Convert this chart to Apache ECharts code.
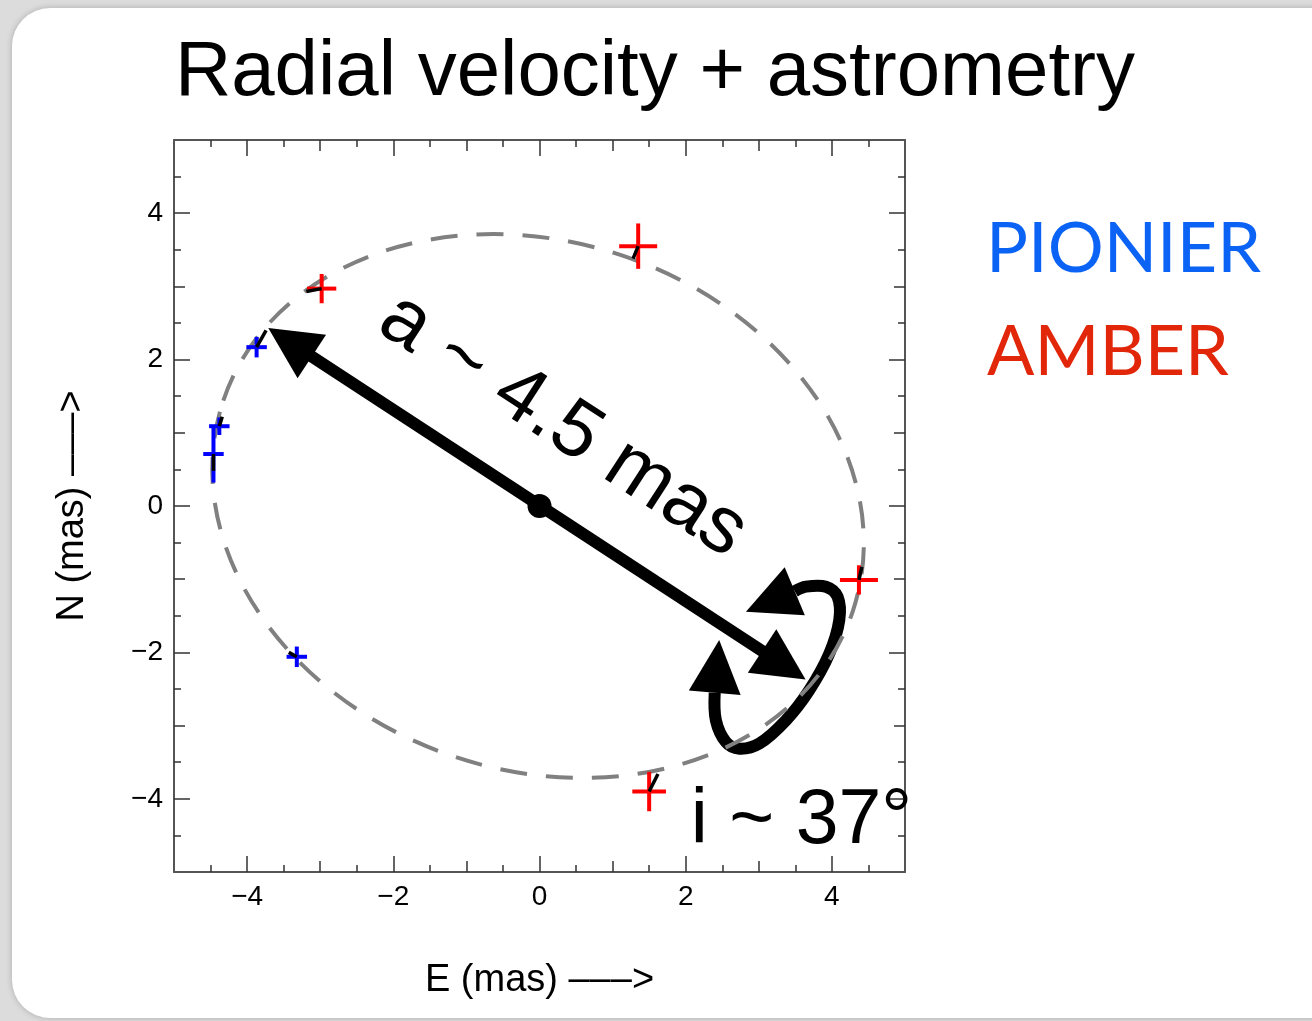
<!DOCTYPE html>
<html>
<head>
<meta charset="utf-8">
<title>Radial velocity + astrometry</title>
<script src="https://cdn.jsdelivr.net/npm/echarts@6/dist/echarts.min.js"></script>
<style>
  html, body { margin: 0; padding: 0; width: 1312px; height: 1021px; overflow: hidden; background: #dcdcdc; }
  #card { position: absolute; left: 12px; top: 8px; width: 1360px; height: 1010px; background: #ffffff;
          border-radius: 38px; box-shadow: 0 0 6px rgba(0,0,0,0.22); }
  #chart { position: absolute; left: 0; top: 0; width: 1312px; height: 1021px; }
</style>
</head>
<body>
<div id="card"></div>
<div id="chart"></div>
<script>
// ---- axis ticks (mas) ----
const axisRange = [-5, 5];
const majorTicks = [-4, -2, 0, 2, 4];
const midTicks = [-3, -1, 1, 3];
const minorTicks = [-4.5, -3.5, -2.5, -1.5, -0.5, 0.5, 1.5, 2.5, 3.5, 4.5];

// ---- AMBER relative astrometry: [E, N], errors [sE, sN], orbit-fit positions ----
const amberPos = [[-2.98, 2.97], [1.35, 3.55], [4.37, -1.01], [1.50, -3.90]];
const amberErr = [[0.20, 0.20], [0.26, 0.31], [0.26, 0.20], [0.23, 0.27]];
const amberFit = [[-3.19, 2.93], [1.28, 3.38], [4.41, -0.83], [1.62, -3.66]];

// ---- PIONIER relative astrometry ----
const pionierPos = [[-3.87, 2.17], [-4.38, 1.09], [-4.46, 0.71], [-3.32, -2.06]];
const pionierErr = [[0.14, 0.14], [0.14, 0.12], [0.14, 0.39], [0.14, 0.14]];
const pionierFit = [[-3.74, 2.40], [-4.34, 1.22], [-4.46, 0.48], [-3.43, -2.00]];

// ---- projected orbit (apparent ellipse) ----
const orbitCenter = [-0.02, 0.0];
const orbitSemiAxes = [4.54, 3.61];
const orbitTiltDeg = -18.5;

// ---- semi-major axis arrow and inclination loop ----
const primaryPos = [0, 0];
const semiMajorEnds = [[-3.71, 2.43], [3.64, -2.37]];
const tiltLoop = [[2.397, -2.551], [2.413, -2.928], [2.550, -3.224], [2.733, -3.315], [3.005, -3.247],
                  [3.371, -2.928], [3.690, -2.517], [3.965, -2.015], [4.101, -1.559], [4.078, -1.240],
                  [3.918, -1.102], [3.645, -1.102], [3.492, -1.165]];
const tiltLoopTips = [[2.458, -1.832], [2.824, -1.446]];

// ---- annotation texts ----
const semiMajorText = 'a ~ 4.5 mas';
const semiMajorTextAt = [0.32, 1.10];
const inclinationText = 'i ~ 37°';
const inclinationTextAt = [2.07, -4.31];

const HELV = "'Liberation Sans', Arial, Helvetica, sans-serif";
const GILL = "Lato, 'Open Sans', sans-serif";

const frameStyle = { color: '#555555', width: 2 };
const tickStyle = { color: '#333333', width: 1.5 };
const minus = v => String(v).replace('-', '\u2212');

function makeAxis(position, ticks, len, opts) {
  opts = opts || {};
  const ax = {
    type: 'value', position: position, min: axisRange[0], max: axisRange[1],
    axisLine: { show: !!opts.line, onZero: false, lineStyle: frameStyle },
    axisTick: { show: true, inside: true, length: len, customValues: ticks, lineStyle: tickStyle },
    axisLabel: { show: !!opts.labels },
    splitLine: { show: false },
    minorTick: { show: false }
  };
  if (opts.labels) {
    ax.axisLabel = {
      show: true, customValues: majorTicks, formatter: minus,
      fontFamily: HELV, fontSize: 28, color: '#000', margin: 11
    };
  }
  if (opts.name) {
    ax.name = opts.name;
    ax.nameLocation = 'middle';
    ax.nameGap = opts.nameGap;
    ax.nameTextStyle = { fontFamily: HELV, fontSize: 38, color: '#000' };
  }
  return ax;
}

const xAxes = [
  makeAxis('bottom', majorTicks, 16, { line: true, labels: true, name: 'E (mas) \u2013\u2013\u2013>', nameGap: 90 }),
  makeAxis('bottom', midTicks, 11), makeAxis('bottom', minorTicks, 7),
  makeAxis('top', majorTicks, 16, { line: true }), makeAxis('top', midTicks, 11), makeAxis('top', minorTicks, 7)
];
const yAxes = [
  makeAxis('left', majorTicks, 16, { line: true, labels: true, name: 'N (mas) \u2013\u2013\u2013>', nameGap: 82 }),
  makeAxis('left', midTicks, 11), makeAxis('left', minorTicks, 7),
  makeAxis('right', majorTicks, 16, { line: true }), makeAxis('right', midTicks, 11), makeAxis('right', minorTicks, 7)
];

function arrowHead(tip, from, len, width) {
  const dx = tip[0] - from[0], dy = tip[1] - from[1];
  const d = Math.hypot(dx, dy) || 1;
  const ux = dx / d, uy = dy / d;
  const bx = tip[0] - ux * len, by = tip[1] - uy * len;
  const nx = -uy, ny = ux;
  return [tip, [bx + nx * width / 2, by + ny * width / 2], [bx - nx * width / 2, by - ny * width / 2]];
}

function crossSeries(name, pos, err, color) {
  return {
    name: name, type: 'custom', z: 4,
    data: pos.map((p, i) => [p[0], p[1], err[i][0], err[i][1]]),
    renderItem: function (params, api) {
      const x = api.value(0), y = api.value(1), ex = api.value(2), ey = api.value(3);
      const l = api.coord([x - ex, y]), r = api.coord([x + ex, y]);
      const t = api.coord([x, y + ey]), b = api.coord([x, y - ey]);
      const st = { stroke: color, lineWidth: 4, fill: null };
      return { type: 'group', children: [
        { type: 'line', shape: { x1: l[0], y1: l[1], x2: r[0], y2: r[1] }, style: st },
        { type: 'line', shape: { x1: t[0], y1: t[1], x2: b[0], y2: b[1] }, style: st }
      ] };
    }
  };
}

function residualSeries(pos, fit) {
  return {
    type: 'custom', z: 5,
    data: pos.map((p, i) => [p[0], p[1], fit[i][0], fit[i][1]]),
    renderItem: function (params, api) {
      const a = api.coord([api.value(0), api.value(1)]);
      const b = api.coord([api.value(2), api.value(3)]);
      return { type: 'line', shape: { x1: a[0], y1: a[1], x2: b[0], y2: b[1] },
               style: { stroke: '#000', lineWidth: 3.5, lineCap: 'butt' } };
    }
  };
}

const option = {
  animation: false,
  backgroundColor: 'transparent',
  grid: { left: 174, top: 140, width: 731, height: 732, containLabel: false, outerBoundsMode: 'none' },
  xAxis: xAxes,
  yAxis: yAxes,
  graphic: [
    { type: 'text', x: 655, y: 73, style: { text: 'Radial velocity + astrometry', fontFamily: HELV, fontSize: 78,
      fill: '#000', align: 'center', verticalAlign: 'middle' } },
    { type: 'text', x: 986, y: 249, style: { text: 'PIONIER', fontFamily: GILL, fontSize: 70,
      fill: '#0b63f6', align: 'left', verticalAlign: 'middle' } },
    { type: 'text', x: 987, y: 352, style: { text: 'AMBER', fontFamily: GILL, fontSize: 70,
      fill: '#e2260a', align: 'left', verticalAlign: 'middle' } }
  ],
  series: [
    // semi-major axis: double-headed arrow with the primary at the centre
    {
      type: 'custom', z: 2,
      data: [[semiMajorEnds[0][0], semiMajorEnds[0][1], semiMajorEnds[1][0], semiMajorEnds[1][1]]],
      renderItem: function (params, api) {
        const p1 = api.coord([api.value(0), api.value(1)]);
        const p2 = api.coord([api.value(2), api.value(3)]);
        const c = api.coord(primaryPos);
        const h1 = arrowHead(p1, p2, 52, 52), h2 = arrowHead(p2, p1, 52, 52);
        const dx = p2[0] - p1[0], dy = p2[1] - p1[1], d = Math.hypot(dx, dy);
        const s = 40 / d;
        return { type: 'group', children: [
          { type: 'line', shape: { x1: p1[0] + dx * s, y1: p1[1] + dy * s, x2: p2[0] - dx * s, y2: p2[1] - dy * s },
            style: { stroke: '#000', lineWidth: 12 } },
          { type: 'polygon', shape: { points: h1 }, style: { fill: '#000' } },
          { type: 'polygon', shape: { points: h2 }, style: { fill: '#000' } },
          { type: 'circle', shape: { cx: c[0], cy: c[1], r: 12 }, style: { fill: '#000' } }
        ] };
      }
    },
    // inclination loop
    {
      type: 'custom', z: 2,
      data: [tiltLoop[0]],
      renderItem: function (params, api) {
        const pts = tiltLoop.map(p => api.coord(p));
        const t0 = api.coord(tiltLoopTips[0]), t1 = api.coord(tiltLoopTips[1]);
        const b0 = pts[0], b1 = pts[pts.length - 1];
        const h0 = arrowHead(t0, b0, Math.hypot(t0[0] - b0[0], t0[1] - b0[1]), 52);
        const h1 = arrowHead(t1, b1, Math.hypot(t1[0] - b1[0], t1[1] - b1[1]), 52);
        return { type: 'group', children: [
          { type: 'polyline', shape: { points: pts, smooth: 0.35 },
            style: { stroke: '#000', lineWidth: 12, fill: null, lineJoin: 'round' } },
          { type: 'polygon', shape: { points: h0 }, style: { fill: '#000' } },
          { type: 'polygon', shape: { points: h1 }, style: { fill: '#000' } }
        ] };
      }
    },
    // annotation labels
    {
      type: 'custom', z: 2,
      data: [semiMajorTextAt],
      renderItem: function (params, api) {
        const p = api.coord([api.value(0), api.value(1)]);
        return { type: 'text', x: p[0], y: p[1], rotation: -33 * Math.PI / 180,
          style: { text: semiMajorText, fontFamily: HELV, fontSize: 80, fill: '#000',
                   align: 'center', verticalAlign: 'middle' } };
      }
    },
    {
      type: 'custom', z: 2,
      data: [inclinationTextAt],
      renderItem: function (params, api) {
        const p = api.coord([api.value(0), api.value(1)]);
        return { type: 'text', x: p[0], y: p[1],
          style: { text: inclinationText, fontFamily: HELV, fontSize: 77, fill: '#000',
                   align: 'left', verticalAlign: 'middle' } };
      }
    },
    // apparent orbit
    {
      type: 'custom', z: 3,
      data: [orbitCenter],
      renderItem: function (params, api) {
        const c = api.coord([api.value(0), api.value(1)]);
        const s = api.size(orbitSemiAxes);
        return { type: 'ellipse', shape: { cx: c[0], cy: c[1], rx: s[0], ry: s[1] },
          originX: c[0], originY: c[1], rotation: orbitTiltDeg * Math.PI / 180,
          style: { fill: null, stroke: '#808080', lineWidth: 4, lineDash: [27, 19] } };
      }
    },
    crossSeries('AMBER', amberPos, amberErr, '#ff0000'),
    crossSeries('PIONIER', pionierPos, pionierErr, '#0000ff'),
    residualSeries(amberPos, amberFit),
    residualSeries(pionierPos, pionierFit)
  ]
};

const chart = echarts.init(document.getElementById('chart'), null, { renderer: 'canvas' });
chart.setOption(option);
</script>
</body>
</html>
